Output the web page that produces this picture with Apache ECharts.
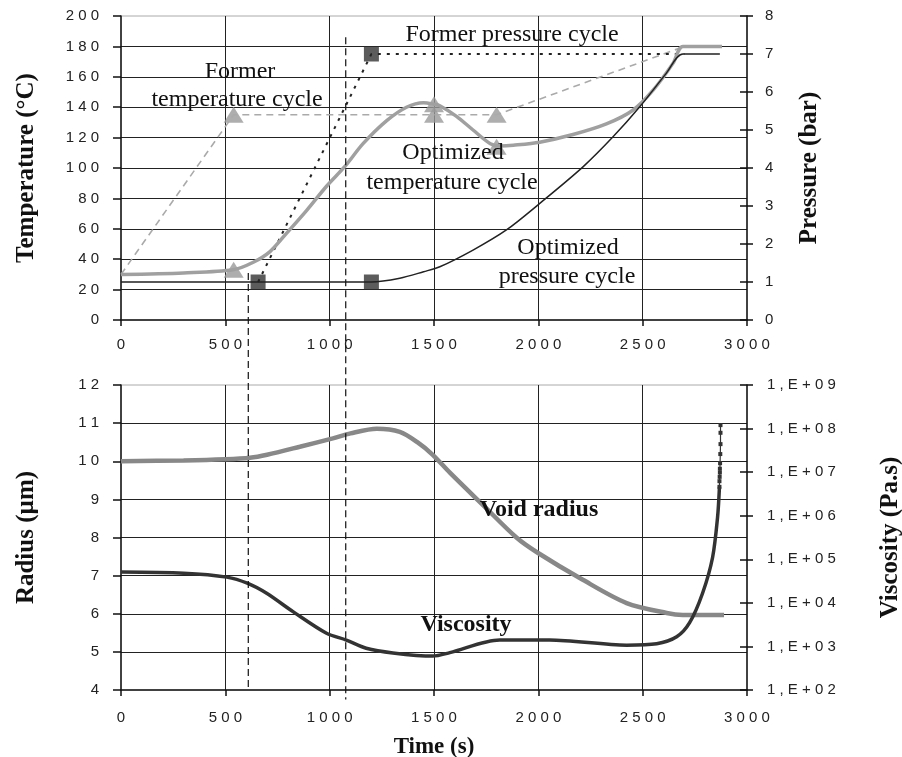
<!DOCTYPE html>
<html>
<head>
<meta charset="utf-8">
<script src="https://cdn.jsdelivr.net/npm/echarts@6/dist/echarts.min.js"></script>
<style>
html, body { margin: 0; background: #fff; }
#main { width: 902px; height: 757px; }
</style>
</head>
<body>
<div id="main"></div>
<script>
// top plot: temperature (left) / pressure (right) against time
var formerTemp = [[0, 30], [540, 135], [1500, 135], [1800, 135], [2700, 180]];
var formerTempMarks = [[540, 135], [1500, 135], [1800, 135]];
var optTemp = [[0, 30], [300, 31], [537, 33], [634, 38], [714, 45], [793, 57], [889, 72], [985, 88],
    [1073, 101], [1160, 116], [1272, 131], [1368, 140], [1450, 143], [1500, 142], [1528, 141],
    [1608, 134], [1687, 125], [1770, 116], [1820, 114.5], [1880, 115], [2007, 117], [2166, 122],
    [2326, 129], [2453, 138], [2549, 151], [2646, 169], [2693, 180], [2880, 180]];
var optTempMarks = [[540, 33], [1500, 142], [1800, 114]];
var optPressure = [[0, 1], [1200, 1], [1336, 1.1], [1450, 1.27], [1528, 1.4], [1687, 1.84],
    [1847, 2.37], [2007, 3.07], [2214, 4.03], [2358, 4.82], [2486, 5.61], [2613, 6.49],
    [2693, 7], [2870, 7]];
var formerPressure = [[657, 1], [1200, 7], [2700, 7]];
var pressureMarks = [[657, 1], [1200, 1], [1200, 7]];

// bottom plot: void radius (left) / viscosity (right, log)
var voidRadius = [[0, 10], [300, 10.02], [500, 10.05], [618, 10.09], [700, 10.17], [857, 10.38],
    [1015, 10.6], [1100, 10.73], [1226, 10.85], [1336, 10.77], [1420, 10.5], [1494, 10.17],
    [1576, 9.7], [1735, 8.85], [1895, 8.0], [1997, 7.6], [2213, 6.89], [2423, 6.28],
    [2615, 6.02], [2692, 5.97], [2890, 5.97]];
var viscosity = [[0, 5.1e4], [300, 4.8e4], [507, 3.9e4], [608, 2.8e4], [698, 1.66e4], [826, 6.2e3],
    [985, 2.0e3], [1080, 1.4e3], [1175, 910], [1303, 710], [1494, 600], [1576, 720],
    [1815, 1.4e3], [2054, 1.4e3], [2423, 1.07e3], [2567, 1.15e3], [2663, 1.66e3],
    [2725, 3.5e3], [2787, 1.66e4], [2835, 1.1e5], [2859, 9.3e5], [2868, 4.6e6]];
var viscosityTail = [[2868, 4.6e6], [2868, 6.2e6], [2869, 7.8e6], [2870, 9.8e6], [2870, 1.2e7],
    [2871, 1.6e7], [2872, 2.6e7], [2873, 4.4e7], [2873, 8e7], [2873, 1.2e8]];

var guideLines = [[610, 31, 4], [1077, 186, 3.75]]; // time, top temp, bottom radius

var sans = 'Liberation Sans';
var serif = 'Liberation Serif';

function spaced(v) {
    return String(v).split('').join(' ');
}
function powLabel(v) {
    var e = Math.round(Math.log(v) / Math.LN10);
    return ('1,E+' + (e < 10 ? '0' + e : e)).split('').join(' ');
}

var tickLabel = { color: '#222', fontSize: 15, fontFamily: sans };
var titleStyle = { color: '#111', fontSize: 25, fontWeight: 'bold', fontFamily: serif };
var blackLine = { color: '#111', width: 1.5 };
var gridLine = { color: '#222', width: 1 };

function timeAxis(grid, margin) {
    return {
        gridIndex: grid, type: 'value', min: 0, max: 3000, interval: 500,
        axisLine: { onZero: false, lineStyle: blackLine },
        axisTick: { length: 6, lineStyle: blackLine },
        axisLabel: Object.assign({ margin: margin, formatter: spaced }, tickLabel),
        splitLine: { show: true, showMinLine: false, showMaxLine: false, lineStyle: gridLine }
    };
}

var chart = echarts.init(document.getElementById('main'));

var xBottom = timeAxis(1, 20);
xBottom.name = 'Time (s)';
xBottom.nameLocation = 'middle';
xBottom.nameGap = 46;
xBottom.nameTextStyle = { color: '#111', fontSize: 23, fontWeight: 'bold', fontFamily: serif };

var option = {
    backgroundColor: '#fff',
    animation: false,
    grid: [
        { left: 121, right: 155, top: 16, height: 304, show: true, borderColor: '#aaa', borderWidth: 1,
          containLabel: false, outerBoundsMode: 'none' },
        { left: 121, right: 155, top: 385, height: 305, show: true, borderColor: '#aaa', borderWidth: 1,
          containLabel: false, outerBoundsMode: 'none' }
    ],
    xAxis: [timeAxis(0, 17), xBottom],
    yAxis: [
        {
            gridIndex: 0, type: 'value', min: 0, max: 200, interval: 20,
            name: 'Temperature (°C)', nameLocation: 'middle', nameRotate: 90, nameGap: 82,
            nameTextStyle: titleStyle,
            axisLine: { show: true, lineStyle: blackLine },
            axisTick: { show: true, length: 8, lineStyle: blackLine },
            axisLabel: Object.assign({ margin: 22, formatter: spaced }, tickLabel),
            splitLine: { show: true, showMinLine: false, showMaxLine: false, lineStyle: gridLine }
        },
        {
            gridIndex: 0, type: 'value', position: 'right', min: 0, max: 8, interval: 1,
            name: 'Pressure (bar)', nameLocation: 'middle', nameRotate: 90, nameGap: 50,
            nameTextStyle: titleStyle,
            axisLine: { show: true, lineStyle: blackLine },
            axisTick: { show: true, length: 6, lineStyle: blackLine },
            axisLabel: Object.assign({ margin: 18 }, tickLabel),
            splitLine: { show: false }
        },
        {
            gridIndex: 0, type: 'value', position: 'right', min: 0, max: 8, interval: 1,
            axisLine: { show: false },
            axisTick: { show: true, inside: true, length: 7, lineStyle: blackLine },
            axisLabel: { show: false },
            splitLine: { show: false }
        },
        {
            gridIndex: 1, type: 'value', min: 4, max: 12, interval: 1,
            name: 'Radius (µm)', nameLocation: 'middle', nameRotate: 90, nameGap: 82,
            nameTextStyle: titleStyle,
            axisLine: { show: true, lineStyle: blackLine },
            axisTick: { show: true, length: 8, lineStyle: blackLine },
            axisLabel: Object.assign({ margin: 22, formatter: spaced }, tickLabel),
            splitLine: { show: true, showMinLine: false, showMaxLine: false, lineStyle: gridLine }
        },
        {
            gridIndex: 1, type: 'log', logBase: 10, position: 'right', min: 100, max: 1e9, splitNumber: 7,
            name: 'Viscosity (Pa.s)', nameLocation: 'middle', nameRotate: 90, nameGap: 131,
            nameTextStyle: titleStyle,
            axisLine: { show: true, lineStyle: blackLine },
            axisTick: { show: true, length: 6, lineStyle: blackLine },
            axisLabel: Object.assign({ margin: 20, formatter: powLabel }, tickLabel),
            splitLine: { show: false }
        },
        {
            gridIndex: 1, type: 'log', logBase: 10, position: 'right', min: 100, max: 1e9, splitNumber: 7,
            axisLine: { show: false },
            axisTick: { show: true, inside: true, length: 7, lineStyle: blackLine },
            axisLabel: { show: false },
            splitLine: { show: false }
        }
    ],
    series: [
        {
            type: 'line', xAxisIndex: 0, yAxisIndex: 0, data: formerTemp, symbol: 'none',
            lineStyle: { color: '#aaa', width: 1.6, type: [7, 5] }
        },
        {
            type: 'line', xAxisIndex: 0, yAxisIndex: 1, data: formerPressure, symbol: 'none',
            lineStyle: { color: '#222', width: 2, type: [3, 6] }
        },
        {
            type: 'line', xAxisIndex: 0, yAxisIndex: 0, data: optTemp, symbol: 'none', smooth: 0.3,
            lineStyle: { color: '#a0a0a0', width: 3.5 }
        },
        {
            type: 'line', xAxisIndex: 0, yAxisIndex: 1, data: optPressure, symbol: 'none', smooth: 0.3,
            lineStyle: { color: '#222', width: 1.5 }
        },
        {
            type: 'scatter', xAxisIndex: 0, yAxisIndex: 0, data: formerTempMarks.concat(optTempMarks),
            symbol: 'triangle', symbolSize: [20, 16], itemStyle: { color: '#9a9a9a' }
        },
        {
            type: 'scatter', xAxisIndex: 0, yAxisIndex: 1, data: pressureMarks,
            symbol: 'rect', symbolSize: 15, itemStyle: { color: '#333' }
        },
        {
            type: 'line', xAxisIndex: 1, yAxisIndex: 3, data: voidRadius, symbol: 'none', smooth: 0.3,
            lineStyle: { color: '#888', width: 4.5 }
        },
        {
            type: 'line', xAxisIndex: 1, yAxisIndex: 4, data: viscosity, symbol: 'none', smooth: 0.3,
            lineStyle: { color: '#333', width: 3.5 }
        },
        {
            type: 'line', xAxisIndex: 1, yAxisIndex: 4, data: viscosityTail,
            symbol: 'rect', symbolSize: 4, showAllSymbol: true,
            itemStyle: { color: '#333' }, lineStyle: { color: '#333', width: 1.2 }
        }
    ]
};
chart.setOption(option);

// annotation texts and the two dashed guides that cross both plots
var graphics = [];
guideLines.forEach(function (g) {
    var p1 = chart.convertToPixel({ gridIndex: 0 }, [g[0], g[1]]);
    var p2 = chart.convertToPixel({ gridIndex: 1 }, [g[0], g[2]]);
    graphics.push({
        type: 'line', z: 40,
        shape: { x1: p1[0], y1: p1[1], x2: p2[0], y2: p2[1] },
        style: { stroke: '#111', lineWidth: 1.2, lineDash: [7, 4] }
    });
});
var notes = [
    ['Former pressure cycle', 512, 35, false],
    ['Former', 240, 72, false],
    ['temperature cycle', 237, 100, false],
    ['Optimized', 453, 153, false],
    ['temperature cycle', 452, 183, false],
    ['Optimized', 568, 248, false],
    ['pressure cycle', 567, 277, false],
    ['Void radius', 539, 510, true],
    ['Viscosity', 466, 625, true]
];
notes.forEach(function (n) {
    graphics.push({
        type: 'text', x: n[1], y: n[2], z: 50,
        style: {
            text: n[0], fill: '#111', fontSize: 24, fontFamily: serif,
            fontWeight: n[3] ? 'bold' : 'normal', align: 'center', verticalAlign: 'middle'
        }
    });
});
chart.setOption({ graphic: graphics });
</script>
</body>
</html>
